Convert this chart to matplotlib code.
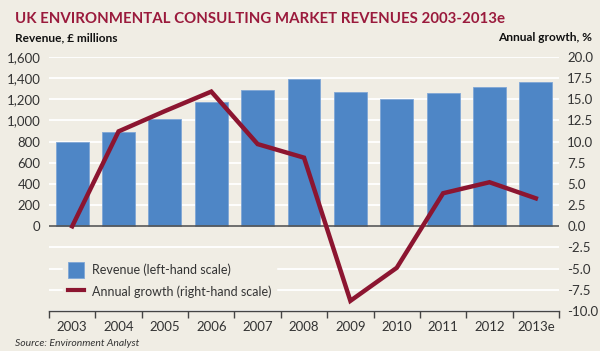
import matplotlib
matplotlib.use("Agg")
import matplotlib.pyplot as plt
from matplotlib.patches import Patch
from matplotlib.lines import Line2D
from matplotlib.ticker import FuncFormatter

years = ["2003", "2004", "2005", "2006", "2007", "2008", "2009", "2010", "2011", "2012", "2013e"]
revenue = [800, 890, 1010, 1170, 1285, 1390, 1270, 1205, 1255, 1320, 1365]
growth = [0.0, 11.2, 13.6, 15.9, 9.7, 8.1, -8.8, -4.9, 3.9, 5.2, 3.3]
left_ticks = [0, 200, 400, 600, 800, 1000, 1200, 1400, 1600]
right_ticks = [-10.0, -7.5, -5.0, -2.5, 0.0, 2.5, 5.0, 7.5, 10.0, 12.5, 15.0, 17.5, 20.0]

BG = "#f0ede4"
BAR = "#4e86c6"
LINE = "#8c1530"
TITLE = "#9a1a3c"
TXT = "#333333"

plt.rcParams['font.family'] = ['Lato', 'DejaVu Sans']

fig = plt.figure(figsize=(6, 3.51), dpi=100, facecolor=BG)
ax = fig.add_axes([0.0817, 0.114, 0.85, 0.724])
ax.set_facecolor(BG)
ax2 = ax.twinx()

x = list(range(len(years)))
ax.set_xlim(-0.5, len(years) - 0.5)
LMIN, LMAX = -800, 1600
RMIN, RMAX = -10, 20
ax.set_ylim(LMIN, LMAX)
ax2.set_ylim(RMIN, RMAX)

# gridlines at right-axis ticks, drawn on the left axes (behind the bars)
for v in right_ticks:
    yl = LMIN + (v - RMIN) / (RMAX - RMIN) * (LMAX - LMIN)
    ax.axhline(yl, color="white", lw=1.3, zorder=0)
ax.bar(x, revenue, width=0.71, color=BAR, edgecolor="#7fa6d6", linewidth=0.6, zorder=2)
ax.axhline(0, color="#555555", lw=1.2, zorder=3)
ax2.plot(x, growth, color=LINE, lw=3.2, zorder=4, solid_joinstyle="miter")

ax.set_zorder(1)
ax2.set_zorder(2)
ax2.patch.set_visible(False)

ax.set_yticks(left_ticks)
ax.yaxis.set_major_formatter(FuncFormatter(lambda v, p: f"{int(v):,}"))
ax2.set_yticks(right_ticks)
ax2.yaxis.set_major_formatter(FuncFormatter(lambda v, p: f"{v:.1f}"))

ax.set_xticks(x)
ax.set_xticklabels(years)
ax.set_xticks([i - 0.5 for i in range(len(years) + 1)], minor=True)
ax.tick_params(axis="x", which="major", length=0, pad=7, labelsize=9.5, labelcolor=TXT)
ax.tick_params(axis="x", which="minor", length=5, width=1, color="#444444", direction="out")
ax.tick_params(axis="y", length=0, pad=6, labelsize=9.5, labelcolor=TXT)
ax2.tick_params(axis="y", length=0, pad=6, labelsize=9.5, labelcolor=TXT)

for a in (ax, ax2):
    for s in ("top", "left", "right", "bottom"):
        a.spines[s].set_visible(False)
ax.spines["bottom"].set_visible(True)
ax.spines["bottom"].set_color("#444444")
ax.spines["bottom"].set_linewidth(1)

handles = [Patch(facecolor=BAR, edgecolor="#7fa6d6", linewidth=0.6),
           Line2D([0], [0], color=LINE, lw=3)]
leg = ax2.legend(handles, ["Revenue (left-hand scale)", "Annual growth (right-hand scale)"],
                 loc="lower left", bbox_to_anchor=(0.015, 0.0), frameon=True, fontsize=9,
                 facecolor=BG, edgecolor=BG, framealpha=1, handlelength=1.3, handleheight=1.6,
                 labelspacing=0.45, borderpad=0.4, handletextpad=0.6)
for t in leg.get_texts():
    t.set_color(TXT)

fig.text(0.025, 0.945, "UK ENVIRONMENTAL CONSULTING MARKET REVENUES 2003-2013e",
         color=TITLE, fontsize=10.8, fontweight="bold", va="center", ha="left")
fig.text(0.025, 0.893, "Revenue, £ millions", color="#111111", fontsize=8.6,
         fontweight="bold", va="center", ha="left")
fig.text(0.987, 0.893, "Annual growth, %", color="#111111", fontsize=8.6,
         fontweight="bold", va="center", ha="right")
fig.text(0.025, 0.022, "Source: Environment Analyst", color=TXT, fontsize=7.5,
         style="italic", va="center", ha="left")

fig.savefig("out.png", dpi=100, facecolor=BG)
